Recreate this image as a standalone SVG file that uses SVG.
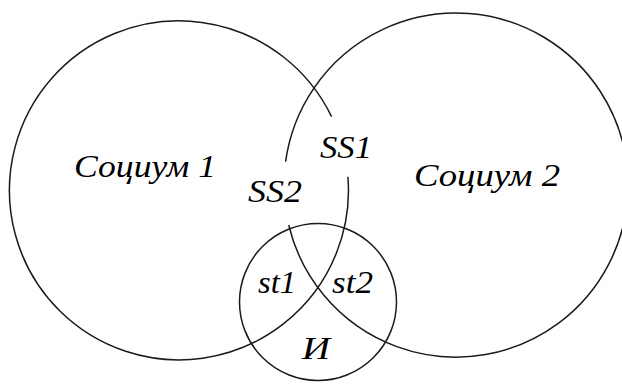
<svg xmlns="http://www.w3.org/2000/svg" width="622" height="387" viewBox="0 0 622 387">
<style>
.c{fill:none;stroke:#1a1a1a;stroke-width:1.5}
text{font-family:'Liberation Serif',serif;font-style:italic;font-size:32px;fill:#000}
</style>
<rect width="622" height="387" fill="#fff"/>
<g id="connectors"></g>
<g id="socium1">
<path class="c" d="M 347.9 176.7 A 169.5 169.5 0 1 1 331.6 116.7"/>
<text x="74" y="177" textLength="142" lengthAdjust="spacingAndGlyphs">Социум 1</text>
</g>
<g id="socium2">
<path class="c" d="M 285.6 161.7 A 172 172 0 1 1 288.7 225"/>
<text x="414" y="186" textLength="146" lengthAdjust="spacingAndGlyphs">Социум 2</text>
</g>
<g id="I">
<circle class="c" cx="318" cy="302" r="78.5"/>
<text x="302" y="359" textLength="28" lengthAdjust="spacingAndGlyphs">И</text>
</g>
<g id="ss1"><text x="320" y="158" textLength="52" lengthAdjust="spacingAndGlyphs">SS1</text></g>
<g id="ss2"><text x="248" y="202" textLength="54" lengthAdjust="spacingAndGlyphs">SS2</text></g>
<g id="st1"><text x="258" y="293" textLength="38" lengthAdjust="spacingAndGlyphs">st1</text></g>
<g id="st2"><text x="332" y="293" textLength="41" lengthAdjust="spacingAndGlyphs">st2</text></g>
</svg>
